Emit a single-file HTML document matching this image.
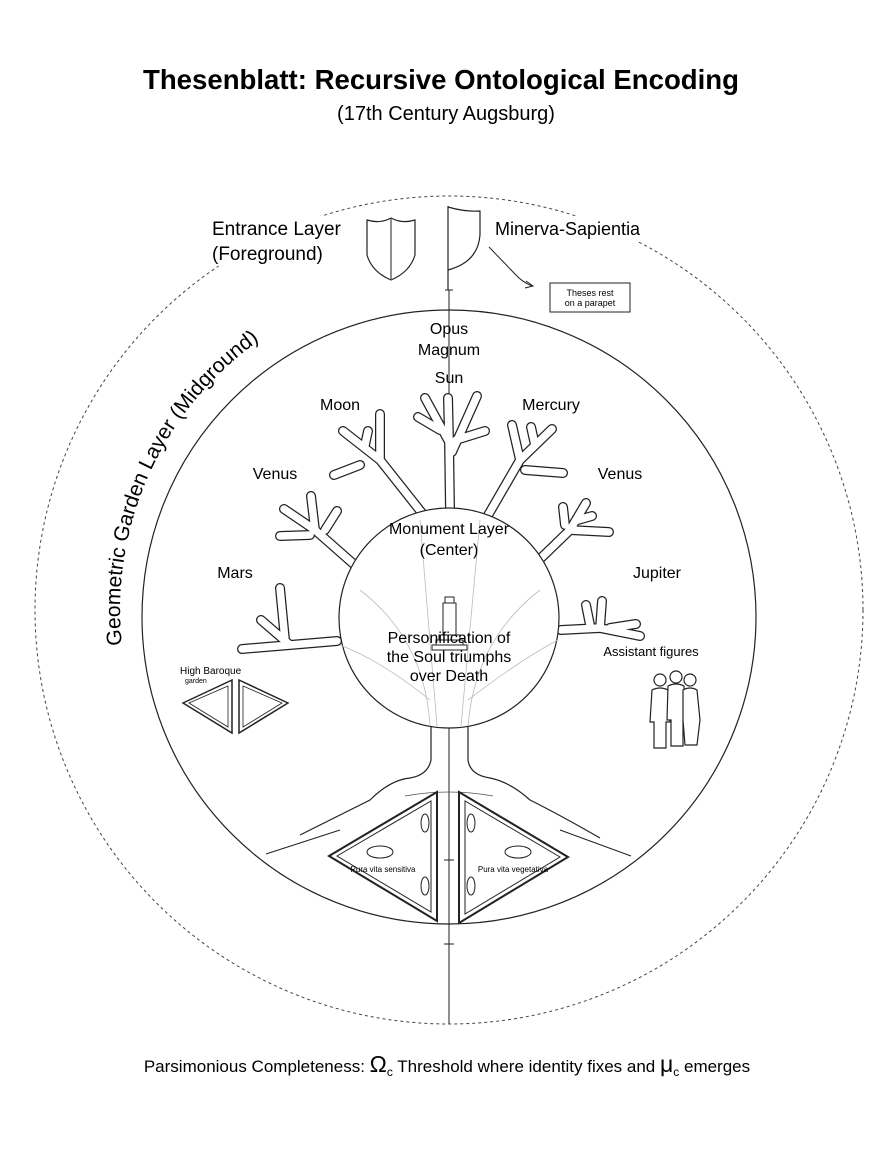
<!DOCTYPE html>
<html><head><meta charset="utf-8"><style>
html,body{margin:0;padding:0;background:#fff;}
svg{display:block;font-family:"Liberation Sans",sans-serif;}
</style></head><body>
<svg width="896" height="1152" viewBox="0 0 896 1152" xmlns="http://www.w3.org/2000/svg">
<rect width="896" height="1152" fill="#fff"/>
<text x="441" y="89" text-anchor="middle" font-size="27.5" font-weight="bold" textLength="596" lengthAdjust="spacingAndGlyphs">Thesenblatt: Recursive Ontological Encoding</text>
<text x="446" y="120" text-anchor="middle" font-size="20">(17th Century Augsburg)</text>

<circle cx="449" cy="610" r="414" fill="none" stroke="#444" stroke-width="1" stroke-dasharray="3,3"/>
<circle cx="449" cy="617" r="307" fill="none" stroke="#222" stroke-width="1.2"/>
<line x1="449" y1="290" x2="449" y2="1024" stroke="#222" stroke-width="1"/>
<line x1="445" y1="290" x2="453" y2="290" stroke="#222"/>
<line x1="444" y1="860" x2="454" y2="860" stroke="#222"/>
<line x1="444" y1="944" x2="454" y2="944" stroke="#222"/>

<line x1="266" y1="854" x2="340" y2="830" stroke="#222"/>
<line x1="631" y1="856" x2="560" y2="830" stroke="#222"/>
<path d="M405 796 Q449 788 493 796" fill="none" stroke="#555" stroke-width="0.8"/>

<g stroke-linecap="round" stroke-linejoin="round" fill="none">
<g stroke="#222" stroke-width="10">
<path d="M450 509 L449 440 L448 398"/>
<path d="M448 440 L425 398 M452 452 L477 396 M440 430 L418 417 M456 440 L485 431"/>
<path d="M422 513 L380 460 L343 431 M380 460 L380 414 M360 465 L334 475 M365 445 L368 431"/>
<path d="M487 517 L520 460 L552 429 M520 460 L512 425 M525 470 L563 473 M535 445 L531 427"/>
<path d="M357 567 L315 530 L284 509 M315 530 L311 496 M310 535 L280 536 M325 530 L337 511"/>
<path d="M540 559 L570 530 L586 503 M570 530 L609 532 M565 525 L563 507 M578 520 L592 516"/>
<path d="M337 641 L290 645 L242 649 M290 645 L261 620 M285 640 L280 588"/>
<path d="M561 630 L600 628 L640 636 M600 628 L602 601 M610 628 L636 624 M590 625 L586 605"/>
</g>
<g stroke="#fff" stroke-width="7.5">
<path d="M450 509 L449 440 L448 398"/>
<path d="M448 440 L425 398 M452 452 L477 396 M440 430 L418 417 M456 440 L485 431"/>
<path d="M422 513 L380 460 L343 431 M380 460 L380 414 M360 465 L334 475 M365 445 L368 431"/>
<path d="M487 517 L520 460 L552 429 M520 460 L512 425 M525 470 L563 473 M535 445 L531 427"/>
<path d="M357 567 L315 530 L284 509 M315 530 L311 496 M310 535 L280 536 M325 530 L337 511"/>
<path d="M540 559 L570 530 L586 503 M570 530 L609 532 M565 525 L563 507 M578 520 L592 516"/>
<path d="M337 641 L290 645 L242 649 M290 645 L261 620 M285 640 L280 588"/>
<path d="M561 630 L600 628 L640 636 M600 628 L602 601 M610 628 L636 624 M590 625 L586 605"/>
</g>
</g>

<circle cx="449" cy="618" r="110" fill="#fff" stroke="#222" stroke-width="1.2"/>
<g stroke="#bbb" stroke-width="0.8" fill="none">
<path d="M430 726 Q425 640 360 590 M468 726 Q475 640 540 590 M437 726 L420 520 M461 726 L480 520 M430 700 Q380 660 340 645 M468 700 Q520 660 558 640"/>
</g>
<path d="M431 726 L431 760 Q428 775 410 778 Q390 780 370 800 Q340 815 300 835" fill="none" stroke="#222" stroke-width="1.2"/>
<path d="M468 726 L468 760 Q470 775 490 778 Q510 782 530 800 Q560 815 600 838" fill="none" stroke="#222" stroke-width="1.2"/>

<g stroke="#222" stroke-width="1" fill="#fff">
<rect x="445" y="597" width="9" height="6"/>
<rect x="443" y="603" width="13" height="32"/>
<rect x="439" y="635" width="21" height="5"/>
<rect x="436" y="640" width="27" height="5"/>
<rect x="432" y="645" width="35" height="5"/>
</g>

<g fill="#fff" stroke="#222">
<path d="M329 856 L437 792 L437 921 Z" stroke-width="2"/>
<path d="M337 856 L431 801 L431 912 Z" stroke-width="1"/>
<path d="M568 857 L459 792 L459 923 Z" stroke-width="2"/>
<path d="M560 857 L465 801 L465 914 Z" stroke-width="1"/>
<ellipse cx="380" cy="852" rx="13" ry="6"/><ellipse cx="518" cy="852" rx="13" ry="6"/>
<ellipse cx="425" cy="823" rx="4" ry="9"/><ellipse cx="425" cy="886" rx="4" ry="9"/>
<ellipse cx="471" cy="823" rx="4" ry="9"/><ellipse cx="471" cy="886" rx="4" ry="9"/>
</g>
<text x="383" y="872" text-anchor="middle" font-size="8">Pura vita sensitiva</text>
<text x="513" y="872" text-anchor="middle" font-size="8">Pura vita vegetativa</text>

<g fill="#fff" stroke="#222">
<path d="M183 703 L232 680 L232 733 Z" stroke-width="1.5"/>
<path d="M189 703 L228 686 L228 727 Z" stroke-width="0.8"/>
<path d="M288 703 L239 680 L239 733 Z" stroke-width="1.5"/>
<path d="M282 703 L243 686 L243 727 Z" stroke-width="0.8"/>
</g>
<text x="180" y="674" font-size="10">High Baroque</text>
<text x="185" y="683" font-size="7">garden</text>

<path d="M367 220 Q380 224 391 218 Q402 224 415 220 L415 255 Q410 272 391 280 Q372 272 367 255 Z" fill="#fff" stroke="#222" stroke-width="1.2"/>
<line x1="391" y1="219" x2="391" y2="279" stroke="#222"/>
<line x1="448" y1="206" x2="448" y2="290" stroke="#222" stroke-width="1.2"/>
<path d="M448 207 Q465 212 480 211 L480 235 Q478 262 448 270" fill="none" stroke="#222" stroke-width="1.2"/>
<rect x="210" y="216" width="132" height="50" fill="#fff"/>
<text x="212" y="235" font-size="19">Entrance Layer</text>
<text x="212" y="260" font-size="19">(Foreground)</text>
<rect x="493" y="216" width="152" height="26" fill="#fff"/>
<text x="495" y="235" font-size="18">Minerva-Sapientia</text>
<path d="M489 247 L515 274 Q522 282 532 286" fill="none" stroke="#222"/>
<path d="M526 281 L533 286 L525 288" fill="none" stroke="#222"/>
<rect x="550" y="283" width="80" height="29" fill="#fff" stroke="#222"/>
<text x="590" y="296" text-anchor="middle" font-size="9">Theses rest</text>
<text x="590" y="306" text-anchor="middle" font-size="9">on a parapet</text>

<g font-size="16" text-anchor="middle">
<text x="449" y="334">Opus</text>
<text x="449" y="355">Magnum</text>
<text x="449" y="383">Sun</text>
<text x="340" y="410">Moon</text>
<text x="551" y="410">Mercury</text>
<text x="275" y="479">Venus</text>
<text x="620" y="479">Venus</text>
<text x="235" y="578">Mars</text>
<text x="657" y="578">Jupiter</text>
<text x="449" y="534">Monument Layer</text>
<text x="449" y="555">(Center)</text>
<text x="449" y="643">Personification of</text>
<text x="449" y="662">the Soul triumphs</text>
<text x="449" y="681">over Death</text>
</g>
<text x="651" y="656" text-anchor="middle" font-size="13">Assistant figures</text>

<g fill="#fff" stroke="#222" stroke-width="1.2">
<circle cx="660" cy="680" r="6"/>
<path d="M652 690 Q660 686 668 690 L670 722 L666 722 L666 748 L654 748 L654 722 L650 722 Z"/>
<circle cx="676" cy="677" r="6"/>
<path d="M668 686 Q676 682 684 686 L686 720 L683 720 L683 746 L671 746 L671 720 L667 720 Z"/>
<circle cx="690" cy="680" r="6"/>
<path d="M683 690 Q690 686 697 690 L700 720 L697 745 L685 745 L683 720 Z"/>
</g>

<defs><path id="arc" d="M122 645 A 330 330 0 0 1 275 330"/></defs>
<text font-size="21"><textPath href="#arc">Geometric Garden Layer (Midground)</textPath></text>

<text x="447" y="1072" text-anchor="middle" font-size="17">Parsimonious Completeness: <tspan font-size="23">Ω</tspan><tspan font-size="12" dy="4">c</tspan><tspan dy="-4"> Threshold where identity fixes and </tspan><tspan font-size="23">μ</tspan><tspan font-size="12" dy="4">c</tspan><tspan dy="-4"> emerges</tspan></text>
</svg>
</body></html>
